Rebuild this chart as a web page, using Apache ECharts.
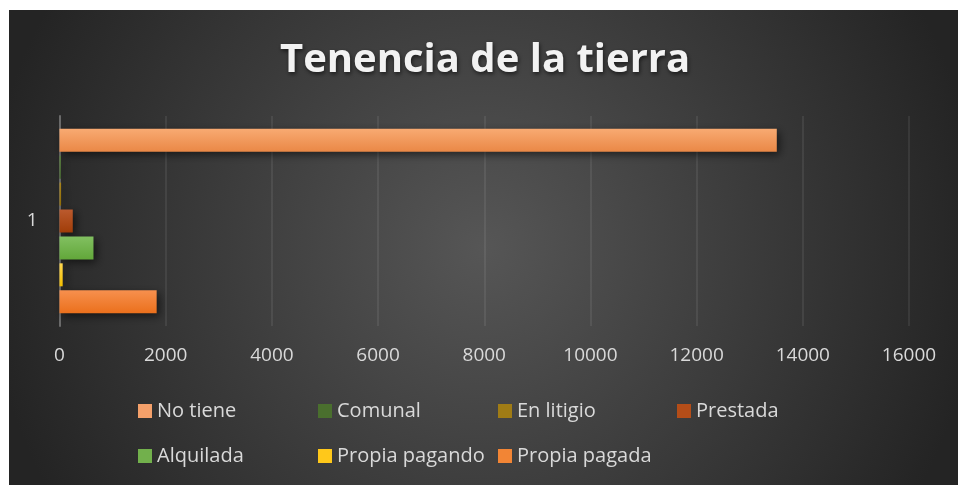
<!DOCTYPE html>
<html>
<head>
<meta charset="utf-8">
<script src="https://cdn.jsdelivr.net/npm/echarts@6/dist/echarts.min.js"></script>
<style>
html,body{margin:0;padding:0;background:#ffffff;}
#chart{width:958px;height:485px;}
</style>
</head>
<body>
<div id="chart"></div>
<script>
const titleText = 'Tenencia de la tierra';
const categories = ['1'];
const seriesNames = ['No tiene', 'Comunal', 'En litigio', 'Prestada', 'Alquilada', 'Propia pagando', 'Propia pagada'];
const noTiene = [13510];
const comunal = [25];
const enLitigio = [30];
const prestada = [250];
const alquilada = [640];
const propiaPagando = [60];
const propiaPagada = [1830];
const xTicks = [0, 2000, 4000, 6000, 8000, 10000, 12000, 14000, 16000];

const seriesValues = [noTiene, comunal, enLitigio, prestada, alquilada, propiaPagando, propiaPagada];
const colorStops = [
  ['#f8aa72', '#ea8846'],
  ['#557f36', '#3b5f24'],
  ['#a8841c', '#8f6c06'],
  ['#bb5a2e', '#a13d08'],
  ['#82c061', '#62a73a'],
  ['#ffd74f', '#f4bf00'],
  ['#f7904e', '#eb701c']
];
const legendColors = ['#f4a06a', '#4a6f2e', '#a07c15', '#b44d18', '#72b04c', '#ffc81a', '#f28535'];
const legendCols = [138, 318, 498, 677];
const legendRows = [401, 446];

const grad = (c) => ({type:'linear', x:0, y:0, x2:0, y2:1, colorStops:[{offset:0,color:c[0]},{offset:1,color:c[1]}]});

const chart = echarts.init(document.getElementById('chart'), null, {renderer:'canvas'});
const font = 'Open Sans';
const series = seriesNames.map((n, i) => ({
  name: n,
  type: 'bar',
  data: seriesValues[i],
  barWidth: 23,
  barGap: '17%',
  itemStyle: {
    color: grad(colorStops[i]),
    shadowColor: 'rgba(0,0,0,0.55)',
    shadowBlur: 8,
    shadowOffsetX: 3,
    shadowOffsetY: 3
  }
}));

const legends = seriesNames.map((n, i) => ({
  orient: 'horizontal',
  left: legendCols[i % 4],
  top: legendRows[Math.floor(i / 4)],
  padding: 0,
  itemWidth: 14,
  itemHeight: 14,
  icon: 'rect',
  selectedMode: false,
  textStyle: {color:'#d9d9d9', fontSize:20, fontFamily:font},
  data: [{name:n, itemStyle:{color: legendColors[i], shadowBlur:0}}]
}));

chart.setOption({
  animation: false,
  graphic: [{
    type: 'rect', z: -10, silent: true,
    shape: {x: 9, y: 10, width: 949, height: 475},
    style: {fill: {type:'radial', x:0.5, y:0.5, r:1.05, global:false,
      colorStops:[{offset:0,color:'#565656'},{offset:1,color:'#242424'}]}}
  }],
  title: {
    text: titleText,
    left: 280,
    top: 41,
    padding: 0,
    textStyle: {color:'#f2f2f2', fontSize:40, fontWeight:'bold', fontFamily:font,
      textShadowColor:'rgba(0,0,0,0.6)', textShadowBlur:4, textShadowOffsetX:1, textShadowOffsetY:2}
  },
  legend: legends,
  grid: {left: 59.5, right: 49, top: 116, bottom: 159, containLabel: false},
  xAxis: {
    type: 'value',
    min: xTicks[0],
    max: xTicks[xTicks.length-1],
    interval: xTicks[1] - xTicks[0],
    axisLine: {show:false},
    axisTick: {show:false},
    splitLine: {lineStyle: {color:'rgba(255,255,255,0.1)', width:1.5}},
    axisLabel: {color:'#d9d9d9', fontSize:19, fontFamily:font, margin:20, formatter: (v) => String(v)}
  },
  yAxis: {
    type: 'category',
    data: categories,
    axisTick: {show:false},
    axisLine: {lineStyle: {color:'#6a6a6a', width:2}},
    axisLabel: {color:'#d9d9d9', fontSize:19, fontFamily:font, margin:22}
  },
  series: series
});
</script>
</body>
</html>
